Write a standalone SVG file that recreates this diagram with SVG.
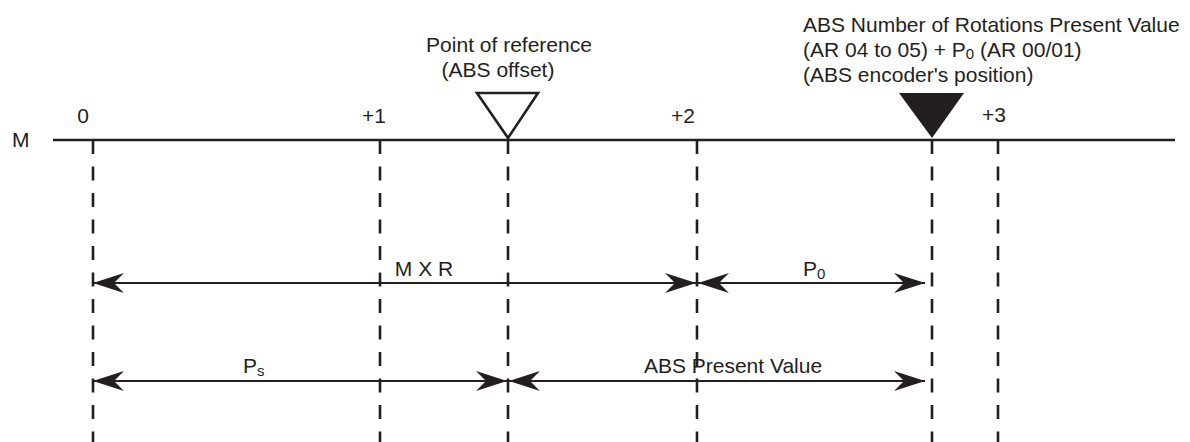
<svg xmlns="http://www.w3.org/2000/svg" width="1190" height="442" viewBox="0 0 1190 442">
<style>
text{font-family:"Liberation Sans",Arial,sans-serif;font-size:21px;fill:#231f20}
.axis{stroke:#231f20;stroke-width:2.6;fill:none}
.dash{stroke:#231f20;stroke-width:2.6;stroke-dasharray:14 12.5;fill:none}
.arr{stroke:#231f20;stroke-width:2.2;fill:none;marker-start:url(#ah);marker-end:url(#ah)}
.sub{font-size:15px}
</style>
<defs>
<marker id="ah" viewBox="-33 -11 34 22" refX="0" refY="0" markerWidth="34" markerHeight="22" markerUnits="userSpaceOnUse" orient="auto-start-reverse">
<path d="M0,0 L-31,-10 Q-24,-3 -21,0 Q-24,3 -31,10 Z" fill="#231f20"/>
</marker>
</defs>
<g id="axis">
<line class="axis" x1="53" y1="140" x2="1175" y2="140"/>
<text x="12" y="147">M</text>
</g>
<g id="tick0"><line class="dash" x1="93" y1="140" x2="93" y2="442"/><text x="83" y="123" text-anchor="middle">0</text></g>
<g id="tick1"><line class="dash" x1="380" y1="140" x2="380" y2="442"/><text x="374" y="123" text-anchor="middle">+1</text></g>
<g id="tick2"><line class="dash" x1="697" y1="140" x2="697" y2="442"/><text x="683" y="123" text-anchor="middle">+2</text></g>
<g id="tick3"><line class="dash" x1="998" y1="140" x2="998" y2="442"/><text x="994" y="122" text-anchor="middle">+3</text></g>
<g id="reference">
<line class="dash" x1="508" y1="140" x2="508" y2="442"/>
<polygon points="477,93 538,93 508,138" fill="none" stroke="#231f20" stroke-width="2.6" stroke-linejoin="miter"/>
<text x="509" y="52" text-anchor="middle">Point of reference</text>
<text x="498" y="77" text-anchor="middle">(ABS offset)</text>
</g>
<g id="encoder">
<line class="dash" x1="932" y1="140" x2="932" y2="442"/>
<polygon points="899,93 964,93 932,138" fill="#231f20"/>
<text x="803" y="32">ABS Number of Rotations Present Value</text>
<text x="803" y="57">(AR 04 to 05) + P<tspan class="sub" dy="2">0</tspan><tspan dy="-2"> (AR 00/01)</tspan></text>
<text x="803" y="82">(ABS encoder's position)</text>
</g>
<g id="connectors">
<line class="arr" x1="93" y1="283" x2="696" y2="283"/>
<line class="arr" x1="698" y1="283" x2="925" y2="283"/>
<line class="arr" x1="93" y1="381" x2="507" y2="381"/>
<line class="arr" x1="509" y1="381" x2="925" y2="381"/>
</g>
<g id="labels">
<text x="424" y="276" text-anchor="middle">M X R</text>
<text x="803" y="276">P<tspan class="sub" dy="3">0</tspan></text>
<text x="243" y="373">P<tspan class="sub" dy="3">s</tspan></text>
<text x="733" y="373" text-anchor="middle">ABS Present Value</text>
</g>
</svg>
